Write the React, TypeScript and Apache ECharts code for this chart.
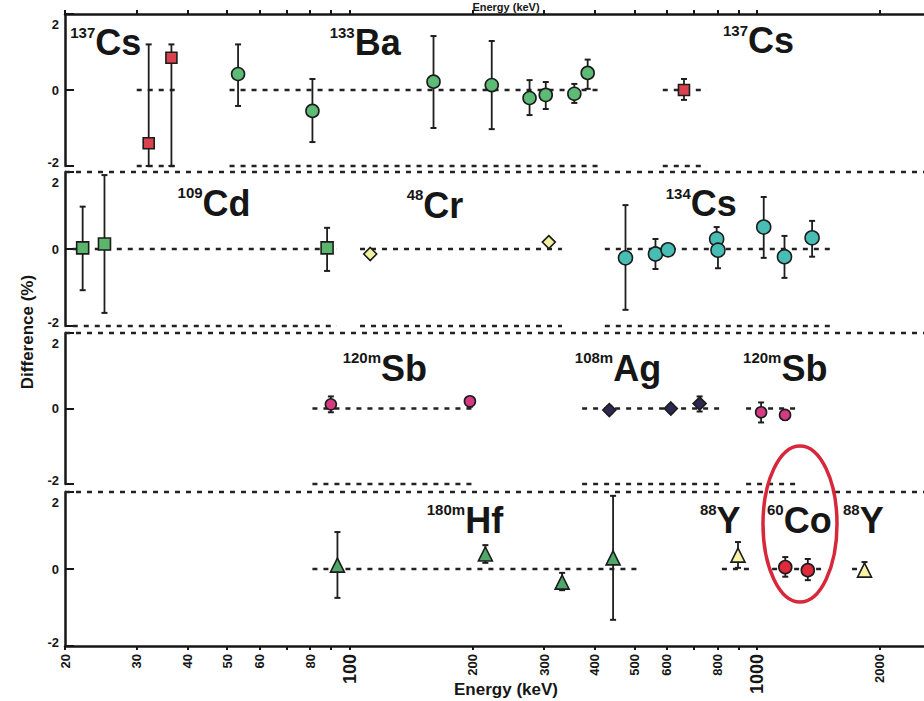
import React, { useEffect, useRef } from "react";
import * as echarts from "echarts";

// ---------- axis ranges / ticks ----------
const X_MIN = 20;
const X_MAX = 2570;
const xTickValues = [20, 30, 40, 50, 60, 70, 80, 90, 100, 200, 300, 400, 500, 600, 700, 800, 900, 1000, 2000];
const xLabelValues = [20, 30, 40, 50, 60, 80, 100, 200, 300, 400, 500, 600, 800, 1000, 2000];
const Y_MIN = -2;
const Y_MAX = 2;

// ---------- data: [energy keV, difference %, error low, error high] ----------
// panel 1
const cs137 = [
  [32.1, -1.4, -2.0, 1.2],
  [36.5, 0.85, -2.0, 1.2],
  [661.7, 0.0, -0.26, 0.29],
];
const ba133 = [
  [53.2, 0.42, -0.42, 1.2],
  [81.0, -0.55, -1.37, 0.29],
  [160.6, 0.22, -1.0, 1.42],
  [223.2, 0.13, -1.03, 1.29],
  [276.4, -0.21, -0.66, 0.26],
  [302.9, -0.13, -0.5, 0.21],
  [356.0, -0.1, -0.34, 0.16],
  [383.9, 0.45, 0.03, 0.8],
];
// panel 2
const cd109 = [
  [22.1, 0.03, -1.07, 1.1],
  [25.0, 0.13, -1.66, 1.92],
  [88.0, 0.03, -0.57, 0.55],
];
const cr48 = [
  [112.3, -0.13, -0.13, -0.13],
  [308.2, 0.18, 0.18, 0.18],
];
const cs134 = [
  [475.4, -0.23, -1.58, 1.14],
  [563.2, -0.13, -0.52, 0.26],
  [604.7, -0.02, -0.1, 0.05],
  [795.9, 0.26, -0.05, 0.57],
  [801.9, -0.03, -0.5, 0.2],
  [1038.6, 0.57, -0.23, 1.35],
  [1167.9, -0.2, -0.75, 0.34],
  [1365.2, 0.29, -0.2, 0.73],
];
// panel 3
const sb120m = [
  [89.9, 0.11, -0.1, 0.32],
  [197.3, 0.19, 0.05, 0.3],
  [1023.3, -0.1, -0.37, 0.16],
  [1171.7, -0.17, -0.3, -0.05],
];
const ag108m = [
  [433.9, -0.04, -0.14, 0.06],
  [614.3, 0.0, -0.1, 0.1],
  [722.9, 0.13, -0.08, 0.32],
];
// panel 4
const hf180m = [
  [93.3, 0.1, -0.75, 0.96],
  [215.3, 0.39, 0.16, 0.62],
  [332.3, -0.34, -0.55, -0.1],
  [443.2, 0.29, -1.32, 1.9],
];
const y88 = [
  [898.0, 0.36, 0.03, 0.7],
  [1836.1, -0.03, -0.05, 0.18],
];
const co60 = [
  [1173.2, 0.05, -0.2, 0.31],
  [1332.5, -0.03, -0.29, 0.26],
];

// dashed reference segments per panel [start keV, end keV]
const segments1 = [[30, 37.6], [50.7, 416], [587, 753]];
const segments2 = [[20.9, 93], [106, 332], [423, 1538]];
const segments3 = [[81, 205], [372, 811], [940, 1276]];
const segments4 = [[81, 510], [820, 973], [1089, 1446], [1711, 1896]];

// nuclide annotations: [energy keV at left edge, difference % at text middle, mass number, symbol]
const labels1 = [[20.6, 1.24, "137", "Cs"], [89.3, 1.24, "133", "Ba"], [825, 1.3, "137", "Cs"]];
const labels2 = [[37.8, 1.19, "109", "Cd"], [138, 1.14, "48", "Cr"], [597, 1.17, "134", "Cs"]];
const labels3 = [[96.1, 1.06, "120m", "Sb"], [357, 1.06, "108m", "Ag"], [924, 1.06, "120m", "Sb"]];
const labels4 = [[154.6, 1.27, "180m", "Hf"], [724, 1.27, "88", "Y"], [1058, 1.27, "60", "Co"], [1626, 1.27, "88", "Y"]];

const FONT = "'Liberation Sans', Arial, Helvetica, sans-serif";
const INK = "#161616";

const groups = [
  { name: "137Cs", panel: 0, data: cs137, symbol: "rect", size: 11, color: "#d8434e" },
  { name: "133Ba", panel: 0, data: ba133, symbol: "circle", size: 13, color: "#5cbb74" },
  { name: "109Cd", panel: 1, data: cd109, symbol: "rect", size: 12, color: "#5cb56c" },
  { name: "48Cr", panel: 1, data: cr48, symbol: "diamond", size: 13, color: "#f3f0a2" },
  { name: "134Cs", panel: 1, data: cs134, symbol: "circle", size: 14, color: "#48bdb4" },
  { name: "120mSb", panel: 2, data: sb120m, symbol: "circle", size: 11, color: "#d63a82" },
  { name: "108mAg", panel: 2, data: ag108m, symbol: "diamond", size: 13, color: "#2b2852" },
  { name: "180mHf", panel: 3, data: hf180m, symbol: "triangle", size: 14, color: "#4fa86a" },
  { name: "88Y", panel: 3, data: y88, symbol: "triangle", size: 14, color: "#f6f2a6" },
  { name: "60Co", panel: 3, data: co60, symbol: "circle", size: 13, color: "#e02a3c" },
];

const panelSegments = [segments1, segments2, segments3, segments4];
const panelLabels = [labels1, labels2, labels3, labels4];

const gridBoxes = [
  { top: 14, height: 152 },
  { top: 172, height: 154 },
  { top: 333, height: 151 },
  { top: 492, height: 154 },
];

const DASH = [5, 6];

function buildOption() {
  const grids = gridBoxes.map((g) => ({
    left: 65,
    right: 0,
    top: g.top,
    height: g.height,
    containLabel: false,
    outerBoundsMode: "none",
  }));

  const xAxes = gridBoxes.map((_, i) => ({
    type: "log",
    logBase: 10,
    gridIndex: i,
    min: X_MIN,
    max: X_MAX,
    position: i === 0 ? "top" : "bottom",
    show: i === 0 || i === 3,
    name: i === 3 ? "Energy (keV)" : "",
    nameLocation: "middle",
    nameGap: 35,
    nameMoveOverlap: false,
    nameTextStyle: { fontFamily: FONT, fontWeight: "bold", fontSize: 17, color: INK, padding: [0, 0, 0, 23] },
    axisLine: { show: true, onZero: false, lineStyle: { color: INK, width: 2.5 } },
    axisTick: {
      show: true,
      inside: false,
      length: 4,
      lineStyle: { color: INK, width: 2 },
      customValues: xTickValues,
    },
    axisLabel: i === 3
      ? {
          show: true,
          rotate: 90,
          margin: 8,
          customValues: xLabelValues,
          fontFamily: FONT,
          fontWeight: "bold",
          fontSize: 13,
          color: INK,
          formatter: (v: number) => (v === 100 || v === 1000 ? `{big|${v}}` : `${v}`),
          rich: { big: { fontFamily: FONT, fontWeight: "bold", fontSize: 18, color: INK } },
        }
      : { show: false },
    splitLine: { show: false },
    minorTick: { show: false },
  }));

  const yAxes = gridBoxes.map((_, i) => ({
    type: "value",
    gridIndex: i,
    min: Y_MIN,
    max: Y_MAX,
    interval: 2,
    axisLine: { show: true, lineStyle: { color: INK, width: 2.5 } },
    axisTick: { show: true, inside: true, length: 9, lineStyle: { color: INK, width: 2 } },
    axisLabel: {
      show: true,
      margin: 6,
      fontFamily: FONT,
      fontWeight: "bold",
      fontSize: 13,
      color: INK,
      formatter: (v: number) => (v === 2 ? `{t|2}` : v === -2 ? `{b|-2}` : `{m|0}`),
      rich: {
        t: { fontFamily: FONT, fontWeight: "bold", fontSize: 13, color: INK, padding: [20, 0, 0, 0] },
        b: { fontFamily: FONT, fontWeight: "bold", fontSize: 13, color: INK, padding: [0, 0, 8, 0] },
        m: { fontFamily: FONT, fontWeight: "bold", fontSize: 13, color: INK },
      },
    },
    splitLine: { show: false },
  }));

  const series: any[] = [];

  // dashed segments at 0 and -2 + full dashed line at top of panels 2-4
  panelSegments.forEach((segs, p) => {
    const levels = p === 3 ? [0] : [0, -2];
    segs.forEach((s) => {
      levels.forEach((lv) => {
        series.push({
          type: "line",
          xAxisIndex: p,
          yAxisIndex: p,
          data: [[s[0], lv], [s[1], lv]],
          symbol: "none",
          clip: false,
          silent: true,
          lineStyle: { color: "#222", width: 2.5, type: DASH },
          z: 1,
        });
      });
    });
    if (p > 0) {
      series.push({
        type: "line",
        xAxisIndex: p,
        yAxisIndex: p,
        data: [[X_MIN, Y_MAX], [X_MAX, Y_MAX]],
        symbol: "none",
        clip: false,
        silent: true,
        lineStyle: { color: "#222", width: 2.5, type: DASH },
        z: 1,
      });
    }
  });

  // error bars + markers
  groups.forEach((g) => {
    series.push({
      type: "custom",
      name: g.name + " error",
      xAxisIndex: g.panel,
      yAxisIndex: g.panel,
      data: g.data,
      encode: { x: 0, y: 1 },
      clip: false,
      silent: true,
      z: 3,
      renderItem: (params: any, api: any) => {
        const x = api.value(0);
        const lo = api.value(2);
        const hi = api.value(3);
        if (hi - lo < 0.01) return { type: "group", children: [] };
        const p1 = api.coord([x, lo]);
        const p2 = api.coord([x, hi]);
        const w = 3;
        return {
          type: "group",
          children: [
            { type: "line", shape: { x1: p1[0], y1: p1[1], x2: p2[0], y2: p2[1] }, style: { stroke: "#1e1e1e", lineWidth: 1.8 } },
            { type: "line", shape: { x1: p1[0] - w, y1: p1[1], x2: p1[0] + w, y2: p1[1] }, style: { stroke: "#1e1e1e", lineWidth: 2 } },
            { type: "line", shape: { x1: p2[0] - w, y1: p2[1], x2: p2[0] + w, y2: p2[1] }, style: { stroke: "#1e1e1e", lineWidth: 2 } },
          ],
        };
      },
    });
    series.push({
      type: "scatter",
      name: g.name,
      xAxisIndex: g.panel,
      yAxisIndex: g.panel,
      data: g.data.map((r) => [r[0], r[1]]),
      symbol: g.symbol,
      symbolSize: g.size,
      clip: false,
      z: 5,
      itemStyle: { color: g.color, borderColor: "#1c1c1c", borderWidth: 1.6, opacity: 1 },
    });
  });

  // nuclide labels
  panelLabels.forEach((labs, p) => {
    series.push({
      type: "scatter",
      name: "labels" + p,
      xAxisIndex: p,
      yAxisIndex: p,
      data: labs.map((l) => ({ value: [l[0], l[1]], sup: l[2], sym: l[3] })),
      symbol: "circle",
      symbolSize: 0,
      silent: true,
      clip: false,
      z: 6,
      itemStyle: { color: "#ffffff", opacity: 1 },
      label: {
        show: true,
        position: "right",
        distance: 0,
        color: INK,
        opacity: 1,
        textBorderWidth: 0,
        formatter: (prm: any) => `{s|${prm.data.sup}}{b|${prm.data.sym}}`,
        rich: {
          s: { fontFamily: FONT, fontWeight: "bold", fontSize: 15, color: INK, verticalAlign: "top", lineHeight: 15, textBorderWidth: 0 },
          b: { fontFamily: FONT, fontWeight: "bold", fontSize: 36, color: INK, lineHeight: 36, verticalAlign: "middle", textBorderWidth: 0 },
        },
      },
    });
  });

  return {
    animation: false,
    backgroundColor: "#ffffff",
    grid: grids,
    xAxis: xAxes,
    yAxis: yAxes,
    series,
    graphic: [
      {
        type: "text",
        x: 27,
        y: 332,
        rotation: Math.PI / 2,
        style: {
          text: "Difference (%)",
          fontFamily: FONT,
          fontWeight: "bold",
          fontSize: 17,
          fill: INK,
          align: "center",
          verticalAlign: "middle",
        },
      },
      {
        type: "text",
        x: 506,
        y: 1,
        style: {
          text: "Energy (keV)",
          fontFamily: FONT,
          fontWeight: "bold",
          fontSize: 11,
          fill: INK,
          align: "center",
          verticalAlign: "top",
        },
      },
      {
        type: "ellipse",
        shape: { cx: 800, cy: 524, rx: 37, ry: 78 },
        style: { fill: "none", stroke: "#d7283b", lineWidth: 3.5 },
        z: 100,
      },
    ],
  };
}

export default function App() {
  const ref = useRef<HTMLDivElement>(null);
  useEffect(() => {
    if (!ref.current) return;
    const chart = echarts.init(ref.current, undefined, { renderer: "svg" });
    chart.setOption(buildOption() as any);
    return () => chart.dispose();
  }, []);
  return (
    <div
      ref={ref}
      style={{ position: "fixed", left: 0, top: 0, width: 924, height: 701, background: "#fff" }}
    />
  );
}
